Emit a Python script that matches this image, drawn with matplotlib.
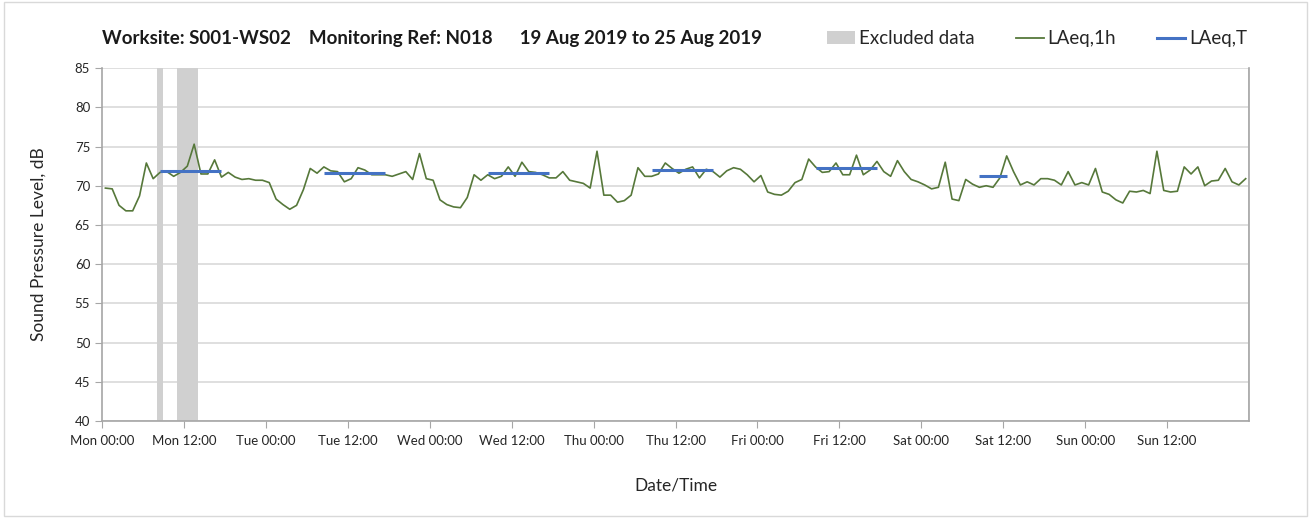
import matplotlib.pyplot as plt
from matplotlib.patches import Patch, Rectangle
from matplotlib.lines import Line2D
from matplotlib.ticker import MultipleLocator

plt.rcParams['font.family'] = ['Lato', 'DejaVu Sans']

# hourly LAeq,1h values, Mon 00:00 .. Sun 23:00 (plotted at mid-hour)
mon = [69.7, 69.6, 67.5, 66.8, 66.8, 68.7, 72.9, 70.9, 71.7, 71.8, 71.2, 71.7,
       72.5, 75.3, 71.5, 71.5, 73.3, 71.1, 71.7, 71.1, 70.8, 70.9, 70.7, 70.7]
tue = [70.4, 68.3, 67.6, 67.0, 67.5, 69.5, 72.2, 71.6, 72.4, 71.9, 71.8, 70.5,
       70.9, 72.3, 72.0, 71.4, 71.4, 71.4, 71.2, 71.5, 71.8, 70.8, 74.1, 70.9]
wed = [70.7, 68.2, 67.6, 67.3, 67.2, 68.5, 71.4, 70.7, 71.4, 70.9, 71.2, 72.4,
       71.2, 73.0, 71.8, 71.7, 71.4, 71.0, 71.0, 71.8, 70.7, 70.5, 70.3, 69.7]
thu = [74.4, 68.8, 68.8, 67.9, 68.1, 68.8, 72.3, 71.2, 71.2, 71.5, 72.9, 72.2,
       71.6, 72.1, 72.4, 71.0, 72.1, 71.8, 71.1, 71.9, 72.3, 72.1, 71.4, 70.5]
fri = [71.3, 69.2, 68.9, 68.8, 69.3, 70.4, 70.8, 73.4, 72.4, 71.7, 71.8, 72.9,
       71.4, 71.4, 73.9, 71.4, 72.0, 73.1, 71.8, 71.2, 73.2, 71.8, 70.8, 70.5]
sat = [70.1, 69.6, 69.8, 73.0, 68.3, 68.1, 70.8, 70.2, 69.8, 70.0, 69.8, 71.0,
       73.8, 71.8, 70.1, 70.5, 70.1, 70.9, 70.9, 70.7, 70.1, 71.8, 70.1, 70.4]
sun = [70.1, 72.2, 69.2, 68.9, 68.2, 67.8, 69.3, 69.2, 69.4, 69.0, 74.4, 69.4,
       69.2, 69.3, 72.4, 71.5, 72.4, 70.0, 70.6, 70.7, 72.2, 70.5, 70.1, 70.9]
laeq_1h = mon + tue + wed + thu + fri + sat + sun

# LAeq,T over the working period of each day (hours from Mon 00:00)
period_start = [8.5, 32.5, 56.5, 80.5, 104.5, 128.5]
period_end = [17.5, 41.5, 65.5, 89.5, 113.5, 132.5]
laeq_t = [71.9, 71.6, 71.6, 72.0, 72.2, 71.2]

# excluded data windows (hours from Mon 00:00)
excl_start = [8, 11]
excl_end = [9, 14]

days = ['Mon', 'Tue', 'Wed', 'Thu', 'Fri', 'Sat', 'Sun']
tick_labels = [f'{d} {h}' for d in days for h in ('00:00', '12:00')]

hours = [i + 0.5 for i in range(len(laeq_1h))]

fig = plt.figure(figsize=(13.14, 5.19), dpi=100)
fig.patches.append(Rectangle((0.003, 0.006), 0.992, 0.99, transform=fig.transFigure,
                             fill=False, edgecolor='#d9d9d9', linewidth=1))
ax = fig.add_axes([0.0776, 0.1888, 0.873, 0.680])

for s, e in zip(excl_start, excl_end):
    ax.axvspan(s, e, color='#d0d0d0', linewidth=0, zorder=1)

ax.plot(hours, laeq_1h, color='#56783a', linewidth=1.2, zorder=3)
ax.hlines(laeq_t, period_start, period_end, color='#4472c4', linewidth=2.2, zorder=4)

ax.set_xlim(0, 168)
ax.set_ylim(40, 85)
ax.set_xticks(range(0, 168, 12))
ax.set_xticklabels(tick_labels)
ax.xaxis.set_minor_locator(MultipleLocator(24))
ax.yaxis.set_major_locator(MultipleLocator(5))
ax.grid(which='minor', axis='x', color='#d9d9d9', linewidth=1.2, zorder=0)
ax.grid(which='major', axis='y', color='#d9d9d9', linewidth=1.2, zorder=0)
ax.set_axisbelow(True)
ax.tick_params(axis='both', which='major', direction='out', length=5, color='#a6a6a6',
               labelsize=9.5, labelcolor='#262626')
ax.tick_params(axis='x', which='major', pad=5)
ax.tick_params(axis='x', which='minor', length=0)
for side in ('left', 'bottom', 'right'):
    ax.spines[side].set_color('#a6a6a6')
    ax.spines[side].set_linewidth(1.2)
ax.spines['top'].set_visible(False)

ax.set_ylabel('Sound Pressure Level, dB', fontsize=12.5, color='#262626', labelpad=20)
ax.set_xlabel('Date/Time', fontsize=12.5, color='#262626', labelpad=22)

fig.text(0.078, 0.925, 'Worksite: S001-WS02    Monitoring Ref: N018      19 Aug 2019 to 25 Aug 2019',
         fontsize=13.5, fontweight='bold', color='#1a1a1a', va='center')

handles = [Patch(facecolor='#d0d0d0', edgecolor='none'),
           Line2D([], [], color='#56783a', linewidth=1.3),
           Line2D([], [], color='#4472c4', linewidth=2.2)]
fig.legend(handles, ['Excluded data', 'LAeq,1h', 'LAeq,T'], ncol=3, frameon=False,
           loc='center right', bbox_to_anchor=(0.962, 0.925), fontsize=13.5,
           handlelength=1.5, handletextpad=0.2, columnspacing=2.2, labelcolor='#262626')

fig.savefig('out.png', dpi=100)
